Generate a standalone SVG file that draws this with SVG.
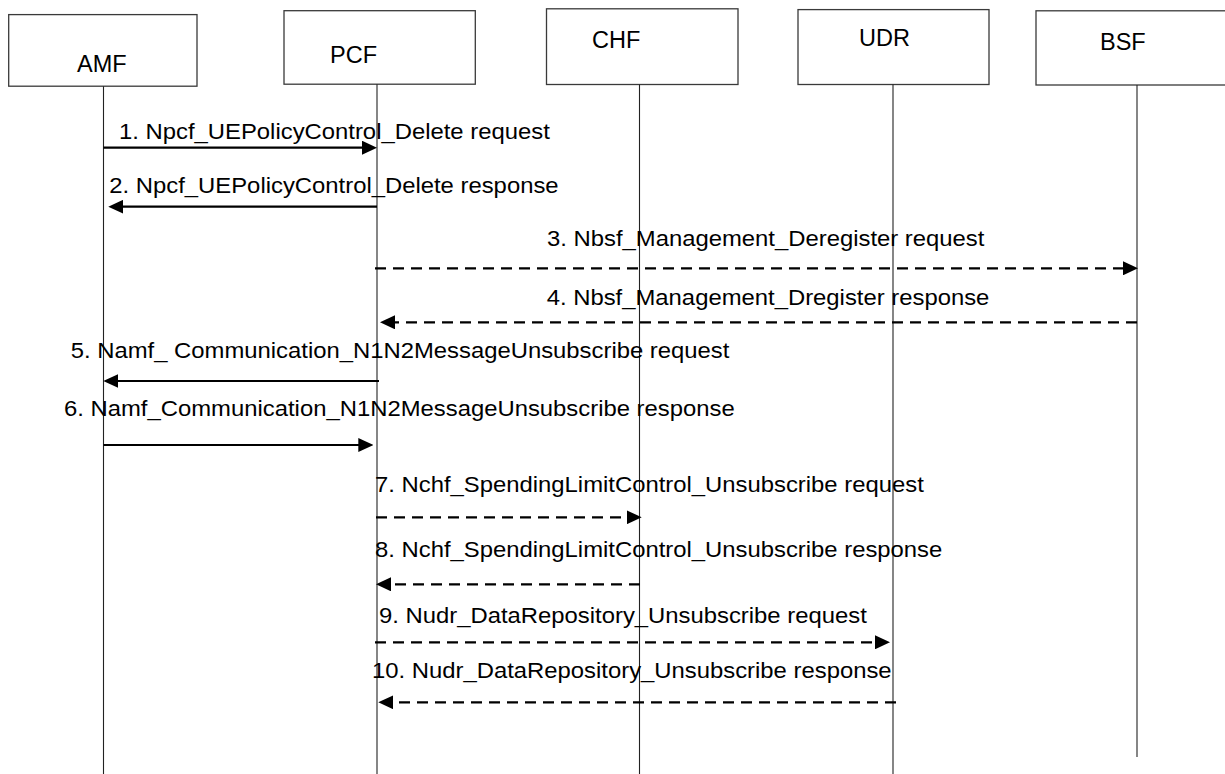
<svg xmlns="http://www.w3.org/2000/svg" width="1225" height="774" viewBox="0 0 1225 774">
<style>
.box{fill:#fff;stroke:#3a3a3a;stroke-width:1.3}
.life{stroke:#222;stroke-width:1.1;fill:none}
.lbl{font-family:"Liberation Sans",Arial,sans-serif;font-size:23.5px;fill:#000}
.msg{font-family:"Liberation Sans",Arial,sans-serif;font-size:22.5px;fill:#000}
.sol{stroke:#000;stroke-width:2.2;fill:none;marker-end:url(#ah)}
.dsh{stroke:#000;stroke-width:2.2;fill:none;stroke-dasharray:11 7;marker-end:url(#ah)}
</style>
<defs>
<marker id="ah" viewBox="0 0 15 14" refX="10" refY="7" markerWidth="15" markerHeight="14" markerUnits="userSpaceOnUse" orient="auto">
<path d="M0,0 L15,7 L0,14 z" fill="#000"/>
</marker>
</defs>
<rect width="1225" height="774" fill="#fff"/>
<g id="AMF">
<rect class="box" x="8.7" y="14.6" width="188.3" height="71.6"/>
<text class="lbl" x="77" y="72">AMF</text>
<line class="life" x1="103.5" y1="86.2" x2="103.5" y2="774"/>
</g>
<g id="PCF">
<rect class="box" x="284" y="10.7" width="191.3" height="73.5"/>
<text class="lbl" x="330" y="63">PCF</text>
<line class="life" x1="377" y1="84.2" x2="377" y2="774"/>
</g>
<g id="CHF">
<rect class="box" x="546.5" y="8.8" width="191.5" height="75.7"/>
<text class="lbl" x="592" y="48">CHF</text>
<line class="life" x1="639.5" y1="84.5" x2="639.5" y2="774"/>
</g>
<g id="UDR">
<rect class="box" x="798" y="9.6" width="191" height="74.9"/>
<text class="lbl" x="859" y="46">UDR</text>
<line class="life" x1="893" y1="84.5" x2="893" y2="774"/>
</g>
<g id="BSF">
<rect class="box" x="1036" y="10.8" width="202" height="74.2"/>
<text class="lbl" x="1100" y="50">BSF</text>
<line class="life" x1="1137" y1="85" x2="1137" y2="757"/>
</g>
<g id="connectors">
<text class="msg" x="119" y="139" textLength="430.8" lengthAdjust="spacingAndGlyphs">1. Npcf_UEPolicyControl_Delete request</text>
<line class="sol" x1="103.5" y1="147.7" x2="372" y2="147.7"/>
<text class="msg" x="109.3" y="193" textLength="449.3" lengthAdjust="spacingAndGlyphs">2. Npcf_UEPolicyControl_Delete response</text>
<line class="sol" x1="377" y1="206.7" x2="113.3" y2="206.7"/>
<text class="msg" x="547" y="246" textLength="437.4" lengthAdjust="spacingAndGlyphs">3. Nbsf_Management_Deregister request</text>
<line class="dsh" x1="375" y1="268.3" x2="1133" y2="268.3"/>
<text class="msg" x="546.7" y="305" textLength="442.7" lengthAdjust="spacingAndGlyphs">4. Nbsf_Management_Dregister response</text>
<line class="dsh" x1="1137" y1="322.3" x2="385" y2="322.3"/>
<text class="msg" x="70.7" y="358.3" textLength="658.7" lengthAdjust="spacingAndGlyphs">5. Namf_ Communication_N1N2MessageUnsubscribe request</text>
<line class="sol" x1="379" y1="381" x2="108.3" y2="381"/>
<text class="msg" x="64" y="416" textLength="670.7" lengthAdjust="spacingAndGlyphs">6. Namf_Communication_N1N2MessageUnsubscribe response</text>
<line class="sol" x1="103.5" y1="445" x2="368.3" y2="445"/>
<text class="msg" x="375" y="491.7" textLength="548.8" lengthAdjust="spacingAndGlyphs">7. Nchf_SpendingLimitControl_Unsubscribe request</text>
<line class="dsh" x1="376" y1="517.3" x2="636.7" y2="517.3"/>
<text class="msg" x="375" y="557.3" textLength="567.3" lengthAdjust="spacingAndGlyphs">8. Nchf_SpendingLimitControl_Unsubscribe response</text>
<line class="dsh" x1="640" y1="584.3" x2="381" y2="584.3"/>
<text class="msg" x="379" y="623" textLength="487.8" lengthAdjust="spacingAndGlyphs">9. Nudr_DataRepository_Unsubscribe request</text>
<line class="dsh" x1="375" y1="642.3" x2="885" y2="642.3"/>
<text class="msg" x="372" y="678.3" textLength="519.6" lengthAdjust="spacingAndGlyphs">10. Nudr_DataRepository_Unsubscribe response</text>
<line class="dsh" x1="896" y1="702.3" x2="383.3" y2="702.3"/>
</g>
</svg>
